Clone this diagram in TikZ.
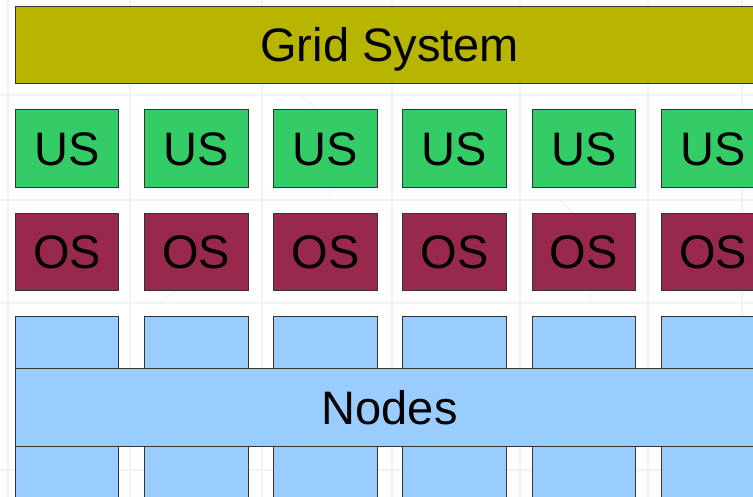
\documentclass[tikz,border=0pt]{standalone}
\usepackage{fontspec}
\setmainfont{Liberation Sans}
\begin{document}
\begin{tikzpicture}[x=1pt,y=-1pt,
  layer/.style={draw=black!80,line width=1pt,inner sep=0pt,anchor=north west,
    text height=33.7pt,text depth=0pt,
    font=\fontsize{47}{47}\selectfont},
  gridbar/.style={layer,fill=gridolive,minimum width=749pt,minimum height=77pt},
  userbox/.style={layer,fill=usgreen,minimum width=103.6pt,minimum height=77.5pt},
  osbox/.style={layer,fill=osred,minimum width=103.6pt,minimum height=77.5pt},
  hostbox/.style={layer,fill=nodeblue,minimum width=103.6pt,minimum height=52pt},
  nodebar/.style={layer,fill=nodeblue,minimum width=749pt,minimum height=78pt},
  trace/.style={draw=tracecol,line width=1.2pt}]
\definecolor{gridolive}{RGB}{183,181,0}
\definecolor{usgreen}{RGB}{51,204,102}
\definecolor{osred}{RGB}{153,40,77}
\definecolor{nodeblue}{RGB}{153,204,255}
\definecolor{tracecol}{RGB}{237,243,248}
\useasboundingbox (0,0) rectangle (753,497);
\clip (0,0) rectangle (753,497);
% faint circuit-board traces in the background
\foreach \x in {8,130,262,392,520,648,742} \draw[trace] (\x,0) -- (\x,497);
\foreach \y in {95,200,303,470} \draw[trace] (0,\y) -- (753,\y);
\draw[trace] (300,95) -- (330,120) -- (330,200);
\draw[trace] (560,200) -- (590,230) -- (590,303);
\draw[trace] (160,303) -- (190,280) -- (240,280);
% grid system layer
\node[gridbar] (grid) at (14.7,6) {Grid System};
% user-space and operating-system boxes
\foreach \i in {0,...,5} {
  \node[userbox] (us\i) at (14.7+129.2*\i,109.5) {US};
  \node[osbox] (os\i) at (14.7+129.2*\i,212.7) {OS};
  \node[hostbox] (top\i) at (14.7+129.2*\i,316) {};
  \node[hostbox] (bot\i) at (14.7+129.2*\i,446) {};
}
% nodes layer across the hosts
\node[nodebar] (nodes) at (14.7,368) {Nodes};
\end{tikzpicture}
\end{document}
